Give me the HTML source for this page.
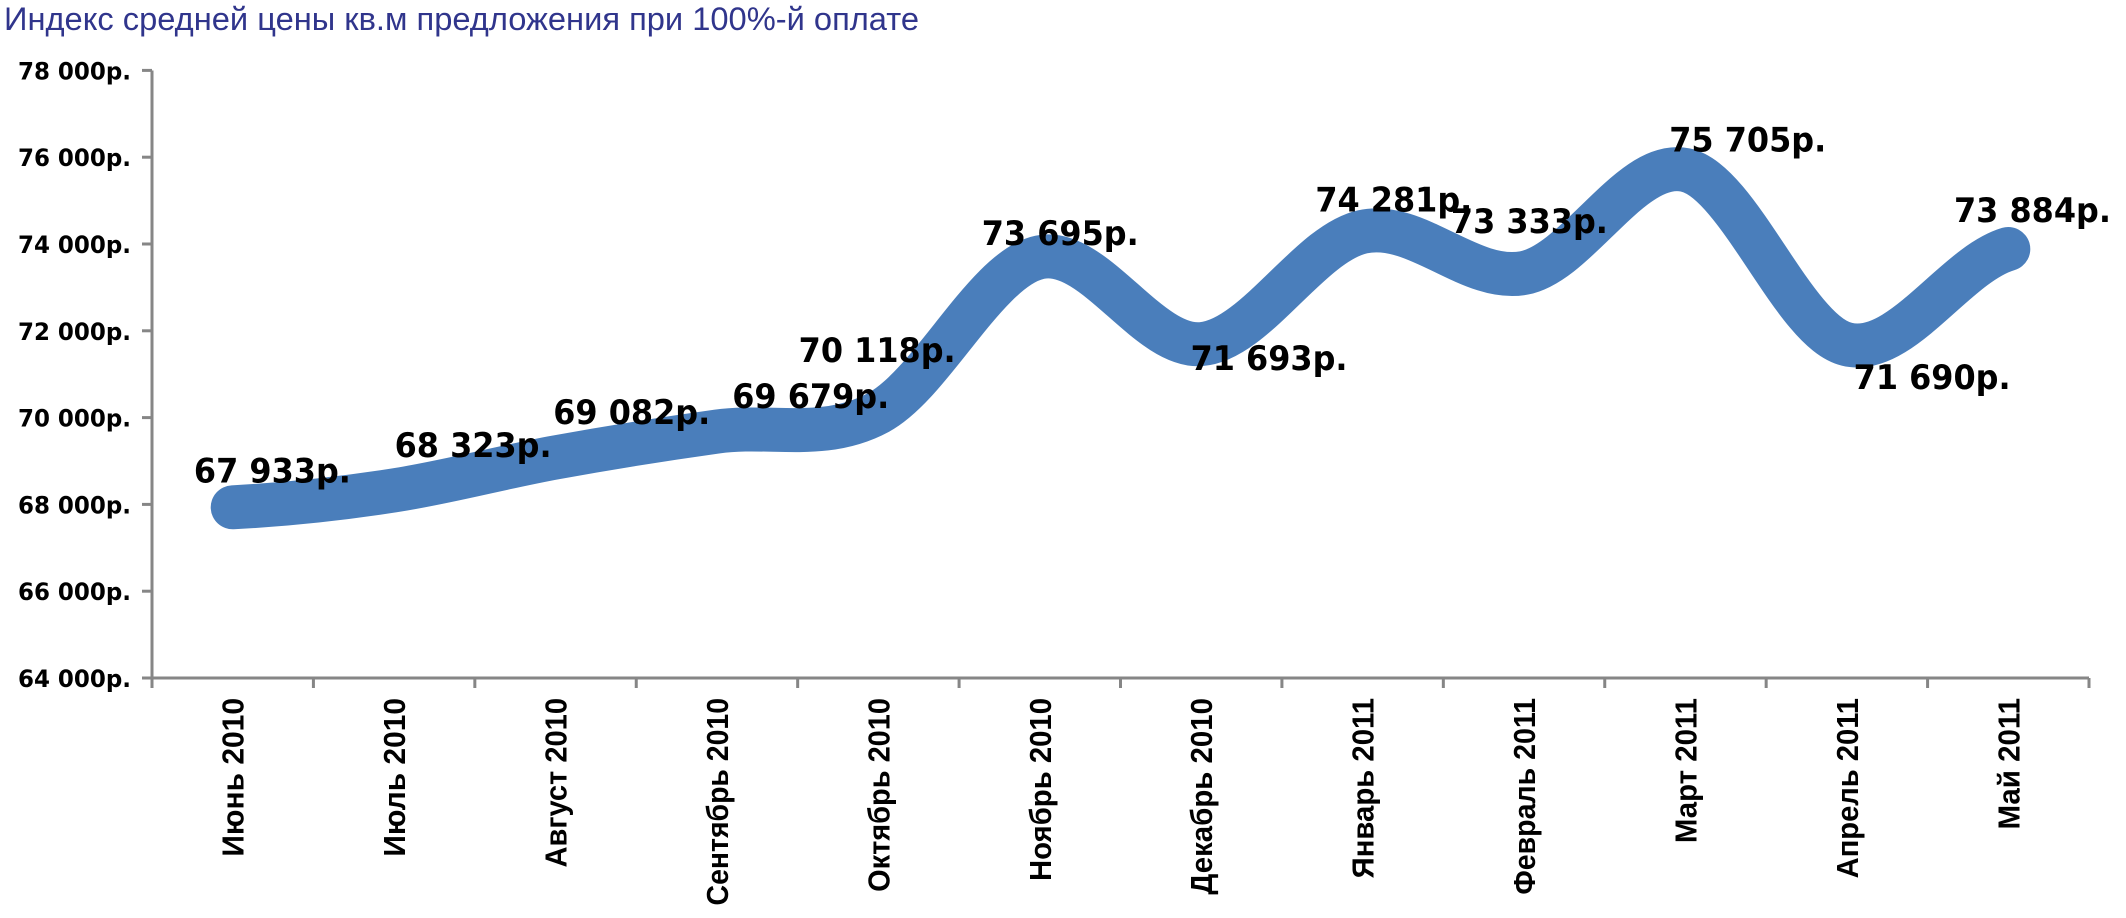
<!DOCTYPE html>
<html><head><meta charset="utf-8"><style>
html,body{margin:0;padding:0;background:#fff;width:2126px;height:918px;overflow:hidden}
svg{display:block}
.yl{font-family:"DejaVu Sans",sans-serif;font-weight:bold;font-size:24px;fill:#000}
.dl{font-family:"DejaVu Sans",sans-serif;font-weight:bold;font-size:34px;fill:#000}
.xl{font-family:"Liberation Sans",sans-serif;font-weight:bold;font-size:31px;fill:#000}
</style></head><body>
<svg id="s" width="2126" height="918" xmlns="http://www.w3.org/2000/svg">
<text x="4" y="30" font-family="Liberation Sans, sans-serif" font-size="32" fill="#30358c" textLength="915" lengthAdjust="spacingAndGlyphs">Индекс средней цены кв.м предложения при 100%-й оплате</text>
<g id="g"></g>
</svg>
<script>
var g=document.getElementById('g'),NS='http://www.w3.org/2000/svg';
function el(t,a,txt){var e=document.createElementNS(NS,t);for(var k in a)e.setAttribute(k,a[k]);if(txt)e.textContent=txt;g.appendChild(e);return e;}
var L=152,R=2089,T=70.5,B=678,W=(R-L)/12;
function Y(v){return B-(v-64000)/2000*86.8;}
for(var v=64000;v<=78000;v+=2000){var y=Y(v);
 el('line',{x1:L-10,y1:y,x2:L,y2:y,stroke:'#868686','stroke-width':3});
 el('text',{x:131,y:y+9,'text-anchor':'end','class':'yl',textLength:113,lengthAdjust:'spacingAndGlyphs'},(v/1000)+' 000р.');}
el('line',{x1:L,y1:T,x2:L,y2:B,stroke:'#868686','stroke-width':3});
el('line',{x1:L,y1:B,x2:R,y2:B,stroke:'#868686','stroke-width':3});
for(var i=0;i<=12;i++){var x=L+W*i;el('line',{x1:x,y1:B,x2:x,y2:B+10,stroke:'#868686','stroke-width':3});}
var vals=[67933,68323,69082,69679,70118,73695,71693,74281,73333,75705,71690,73884];
var months=['Июнь 2010','Июль 2010','Август 2010','Сентябрь 2010','Октябрь 2010','Ноябрь 2010','Декабрь 2010','Январь 2011','Февраль 2011','Март 2011','Апрель 2011','Май 2011'];
var lens=[117,117,125,153,143,135,145,133,145,107,133,97];
var P=vals.map(function(v,i){return [L+W*(i+0.5),Y(v)];});
var d='M'+P[0][0]+' '+P[0][1],k=1/6;
for(var i=0;i<P.length-1;i++){var p0=P[Math.max(i-1,0)],p1=P[i],p2=P[i+1],p3=P[Math.min(i+2,P.length-1)];
 var c1=[p1[0]+W/3,p1[1]+(p2[1]-p0[1])*k],c2=[p2[0]-W/3,p2[1]-(p3[1]-p1[1])*k];
 d+=' C'+c1[0]+' '+c1[1]+' '+c2[0]+' '+c2[1]+' '+p2[0]+' '+p2[1];}
el('path',{d:d,fill:'none',stroke:'#4a7ebb','stroke-width':44,'stroke-linecap':'round','stroke-linejoin':'round'});
months.forEach(function(m,i){var x=L+W*(i+0.5)+11,y=698;
 el('text',{x:0,y:0,'class':'xl','text-anchor':'end',transform:'translate('+x+','+y+') rotate(-90)',textLength:lens[i]*1.356,lengthAdjust:'spacingAndGlyphs'},m);});
var lab=[[143,347],[291,328],[408,304],[540,292],[589,258],[724,172],[878,264],[970,147],[1070,163],[1231,103],[1367,278],[1441,155]];
lab.forEach(function(p,i){var s=String(vals[i]);var t=s.slice(0,2)+' '+s.slice(2)+'р.';
 el('text',{x:p[0]*1.356,y:p[1]*1.356+12,'class':'dl',textLength:157,lengthAdjust:'spacingAndGlyphs'},t);});
</script>
</body></html>
